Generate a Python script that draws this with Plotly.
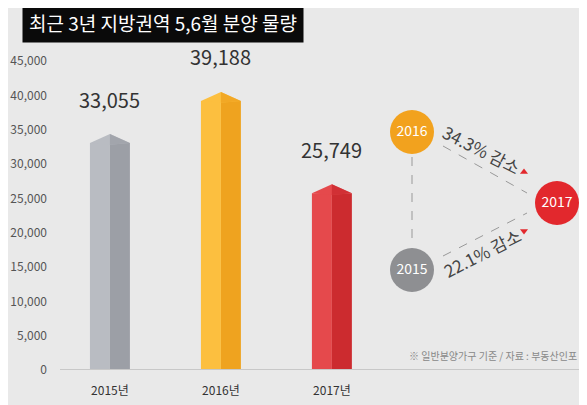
import plotly.graph_objects as go

years = ["2015년", "2016년", "2017년"]
values = [33055, 39188, 25749]
light = ["#b9bcc2", "#fcbf3f", "#e5494c"]
dark = ["#9c9fa6", "#efa31f", "#cc2b2f"]
circle_colors = {"2015": "#8e8f92", "2016": "#f2a21e", "2017": "#e2282d"}
tick_vals = list(range(0, 45001, 5000))

xs = list(range(len(values)))
hw = 0.18
cap = 1300

fig = go.Figure()
# left and right faces of each 3D bar
fig.add_trace(go.Bar(x=xs, y=values, width=hw, offset=-hw, marker_color=light, marker_line_width=0))
fig.add_trace(go.Bar(x=xs, y=values, width=hw, offset=0, marker_color=dark, marker_line_width=0))
# top caps
for i, v in enumerate(values):
    fig.add_trace(go.Scatter(x=[i - hw, i, i + hw, i, i - hw], y=[v, v + cap, v, v - cap * 0.2, v],
                             fill="toself", fillcolor=light[i], line_width=0, mode="lines", hoverinfo="skip"))
    fig.add_trace(go.Scatter(x=[i, i + hw, i], y=[v + cap, v, v - cap * 0.2], fill="toself",
                             fillcolor=dark[i], line_width=0, mode="lines", opacity=0.8, hoverinfo="skip"))
    fig.add_annotation(x=i, y=v, text=f"{v:,}", showarrow=False, yshift=44,
                       font=dict(size=20, color="#333"))

# right-hand comparison diagram in page pixel coords on second axes
pos = {"2016": (412, 132), "2017": (557, 203), "2015": (412, 270)}
def seg(a, b):
    return dict(type="line", xref="x2", yref="y2", x0=a[0], y0=a[1], x1=b[0], y1=b[1],
                line=dict(color="#999", width=1, dash="dash"))
fig.add_shape(seg((412, 157), (412, 246)))
fig.add_shape(seg((443, 146), (527, 193)))
fig.add_shape(seg((443, 256), (527, 213)))
for k, (px_, py_) in pos.items():
    fig.add_trace(go.Scatter(x=[px_], y=[py_], xaxis="x2", yaxis="y2", mode="markers+text",
                             marker=dict(size=44, color=circle_colors[k]), text=[k],
                             textfont=dict(color="white", size=14), hoverinfo="skip"))
drop16 = (1 - values[2] / values[1]) * 100
drop15 = (1 - values[2] / values[0]) * 100
fig.add_annotation(xref="x2", yref="y2", x=482, y=149, text=f"{drop16:.1f}% 감소", textangle=27,
                   showarrow=False, font=dict(size=17, color="#444"))
fig.add_annotation(xref="x2", yref="y2", x=482, y=252, text=f"{drop15:.1f}% 감소", textangle=-27,
                   showarrow=False, font=dict(size=17, color="#444"))
fig.add_trace(go.Scatter(x=[524, 524], y=[172, 231], xaxis="x2", yaxis="y2", mode="markers",
                         marker=dict(symbol=["triangle-up", "triangle-down"], size=7, color="#e2282d"),
                         hoverinfo="skip"))
fig.add_annotation(xref="x2", yref="y2", x=579, y=355, xanchor="right", showarrow=False,
                   text="※ 일반분양가구 기준 / 자료 : 부동산인포", font=dict(size=10, color="#888"))

# baseline shadow
fig.add_shape(type="line", xref="paper", yref="y", x0=0, x1=1, y0=0, y1=0,
              line=dict(color="#c8c8c8", width=2))

# title box
fig.add_annotation(xref="paper", yref="paper", x=-0.072, y=1.126, xanchor="left", yanchor="middle",
                   text="최근 3년 지방권역 5,6월 분양 물량", showarrow=False, bgcolor="#0a0a0a",
                   borderpad=6, font=dict(size=19, color="white", family="Noto Sans CJK KR"))

fig.update_layout(
    width=579, height=397, showlegend=False, barmode="overlay",
    margin=dict(l=52, r=0, t=53, b=35, autoexpand=False),
    paper_bgcolor="#e9e9e9", plot_bgcolor="rgba(0,0,0,0)",
    font=dict(family="Noto Sans CJK KR", color="#444"),
    xaxis=dict(domain=[0, 0.716], range=[-0.45, 2.95], tickvals=xs, ticktext=years,
               showgrid=False, zeroline=False, ticks="", ticklabelstandoff=12, automargin=False,
               tickfont=dict(size=12, color="#333")),
    yaxis=dict(range=[0, 45000], tickvals=tick_vals, tickformat=",", showgrid=False, automargin=False,
               zeroline=False, ticks="", tickfont=dict(size=12, color="#555"), ticklabelstandoff=12),
    xaxis2=dict(domain=[0, 1], range=[60, 587], visible=False, anchor="y2"),
    yaxis2=dict(overlaying="y", range=[370, 61], visible=False, anchor="x2"),
)
fig.update_traces(cliponaxis=False, selector=dict(type="scatter"))
fig.write_html("out.html")
